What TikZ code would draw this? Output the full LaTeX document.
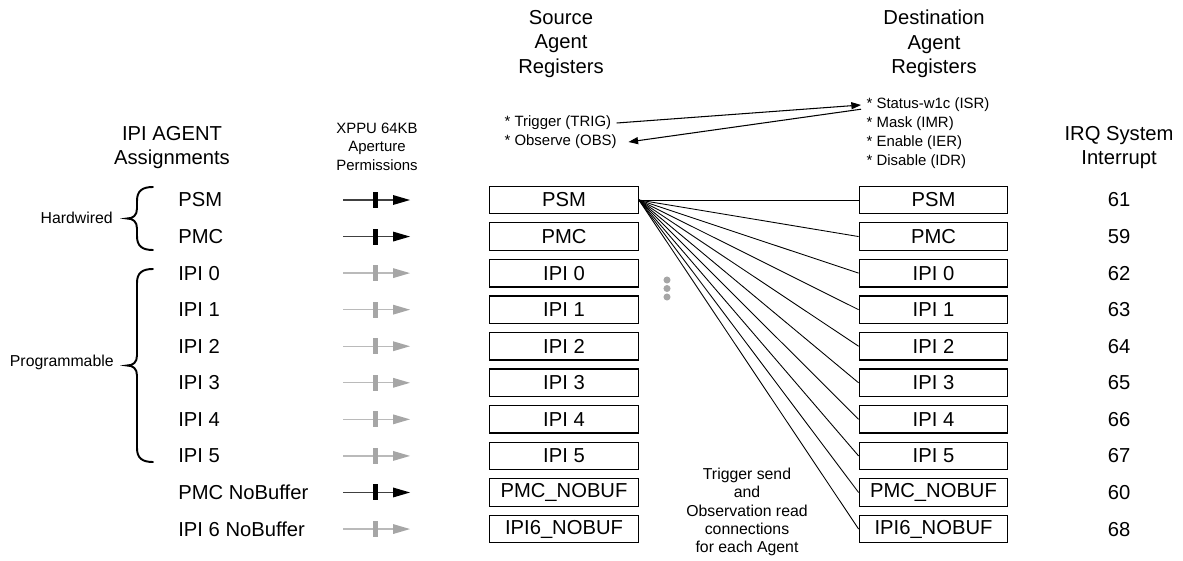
\documentclass[tikz,border=0pt]{standalone}
\usepackage{fontspec}
\setmainfont{Liberation Sans}
\usetikzlibrary{arrows.meta}
\tikzset{
  hdr/.style={align=center, font=\fontsize{11.5}{14}\selectfont, inner sep=0pt},
  lbl/.style={font=\fontsize{11.5}{14}\selectfont, inner sep=0pt},
  small/.style={font=\fontsize{8.5}{10.5}\selectfont, inner sep=3pt},
  bracelbl/.style={font=\fontsize{9}{11}\selectfont, inner sep=0pt},
  note/.style={align=center, font=\fontsize{9}{10.5}\selectfont, inner sep=0pt},
  regbox/.style={draw, line width=0.75pt, minimum width=2.97cm, minimum height=0.55cm, inner sep=0pt, font=\fontsize{11.5}{14}\selectfont},
  conn/.style={line width=0.5pt},
  ptr/.style={line width=0.6pt, -{Triangle[length=5.5pt,width=4pt]}},
  bracepath/.style={line width=1.1pt, line cap=round},
  permlinek/.style={draw=black!75},
  permfillk/.style={fill=black},
  permlineg/.style={draw=black!27},
  permfillg/.style={fill=black!35},
}
\newcommand\agentbrace[2]{%
  \draw[bracepath] (153,#1) .. controls (142,#1) and (137,{#1+4}) .. (137,{#1+14})
    -- (137,{(#1+#2)/2-10}) .. controls (137,{(#1+#2)/2-3}) and (133,{(#1+#2)/2}) .. (127,{(#1+#2)/2})
    .. controls (133,{(#1+#2)/2}) and (137,{(#1+#2)/2+3}) .. (137,{(#1+#2)/2+10})
    -- (137,{#2-14}) .. controls (137,{#2-4}) and (142,#2) .. (153,#2);}
\begin{document}
\begin{tikzpicture}[x=0.02cm,y=-0.02cm]
\path[use as bounding box] (0,0) rectangle (1183,561);

% headers
\node[hdr] (hAgent) at (172,147.5) {IPI AGENT\\Assignments};
\node[hdr, font=\fontsize{8.5}{10.5}\selectfont] (hXppu) at (377,146.5) {XPPU 64KB\\Aperture\\Permissions};
\node[hdr] (hSrc) at (561,44) {Source\\Agent\\Registers};
\node[hdr] (hDst) at (934,44) {Destination\\Agent\\Registers};
\node[hdr] (hIrq) at (1119,147.5) {IRQ System\\Interrupt};

% register notes
\node[small, anchor=west] (trig) at (499,123) {* Trigger (TRIG)};
\node[small, anchor=west] (obs) at (499,142) {* Observe (OBS)};
\node[small, anchor=west] (isr) at (861,105) {* Status-w1c (ISR)};
\node[small, anchor=west] (imr) at (861,124) {* Mask (IMR)};
\node[small, anchor=west] (ier) at (861,143) {* Enable (IER)};
\node[small, anchor=west] (idr) at (861,162) {* Disable (IDR)};
\draw[ptr] (trig.east) -- (isr.west);
\draw[ptr] ([yshift=-2.4pt]isr.west) -- ([xshift=3.5pt]obs.east);

% braces
\agentbrace{187}{250}
\agentbrace{269}{462}
\node[bracelbl, anchor=east] (hw) at (113,218) {Hardwired};
\node[bracelbl, anchor=east] (prog) at (114,362) {Programmable};

% rows
\foreach \i/\lab/\reg/\irq/\col in {0/PSM/PSM/61/k, 1/PMC/PMC/59/k, 2/IPI 0/IPI 0/62/g,
  3/IPI 1/IPI 1/63/g, 4/IPI 2/IPI 2/64/g, 5/IPI 3/IPI 3/65/g, 6/IPI 4/IPI 4/66/g,
  7/IPI 5/IPI 5/67/g, 8/PMC NoBuffer/PMC\_NOBUF/60/k, 9/IPI 6 NoBuffer/IPI6\_NOBUF/68/g}{
  \pgfmathsetmacro\y{200+36.56*\i}
  \node[lbl, anchor=west] (a\i) at (178,\y) {\lab};
  \draw[permline\col, line width=0.75pt] (343,\y) -- (395,\y);
  \fill[permfill\col] (373,{\y-8}) rectangle (378,{\y+8});
  \fill[permfill\col] (393,{\y-5}) -- (410,\y) -- (393,{\y+5}) -- cycle;
  \node[regbox] (s\i) at (564,\y) {\reg};
  \node[regbox] (d\i) at (933.5,\y) {\reg};
  \node[lbl] (q\i) at (1119,\y) {\irq};
}

% connections from source PSM to each destination
\foreach \i in {0,...,9}{
  \draw[conn] (s0.east) -- (d\i.west);
}

% ellipsis dots
\fill[black!35] (667,280) circle[radius=2pt];
\fill[black!35] (667,288.5) circle[radius=2pt];
\fill[black!35] (667,297) circle[radius=2pt];

\node[note] (trignote) at (747,512) {Trigger send\\and\\Observation read\\connections\\for each Agent};
\end{tikzpicture}
\end{document}
